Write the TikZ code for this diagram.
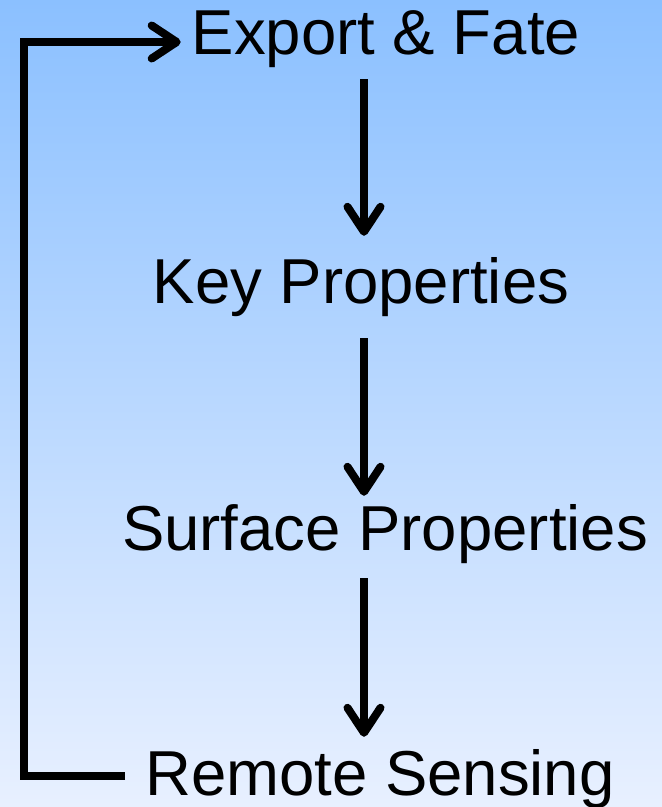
\documentclass[tikz,border=0pt]{standalone}
\usepackage{fontspec}
\setmainfont{Liberation Sans}
\usetikzlibrary{arrows.meta,calc}
\definecolor{topblue}{RGB}{139,192,255}
\definecolor{botblue}{RGB}{232,240,255}
\begin{document}
\begin{tikzpicture}[x=1pt,y=-1pt]
\useasboundingbox (0,0) rectangle (662,807);
\shade[top color=topblue, bottom color=botblue] (0,0) rectangle (662,807);
\tikzset{steptext/.style={anchor=base,inner sep=0pt,font=\fontsize{63.5}{64}\selectfont}}
\tikzset{flow/.style={line width=8pt,-{Straight Barb[round,length=25pt,width=33pt]}}}
\node[steptext] (export) at (386,54) {Export \& Fate};
\node[steptext] (key) at (361,303) {Key Properties};
\node[steptext] (surface) at (385,550) {Surface Properties};
\node[steptext] (remote) at (380,795) {Remote Sensing};
\coordinate (col) at (364,0);
\coordinate (rail) at (24,0);
\draw[flow, shorten <=12pt, shorten >=21pt] (col |- export.south) -- (col |- key.north);
\draw[flow, shorten <=22pt, shorten >=8pt] (col |- key.south) -- (col |- surface.north);
\draw[flow, shorten <=15pt, shorten >=12pt] (col |- surface.south) -- (col |- remote.north);
% back to the top
\coordinate (loopstart) at ([xshift=-20pt,yshift=19pt]remote.base west);
\coordinate (loopend) at ([xshift=-11pt,yshift=12pt]export.base west);
\draw[flow] (loopstart) -- (rail |- loopstart) -- (rail |- loopend) -- (loopend);
\end{tikzpicture}
\end{document}
